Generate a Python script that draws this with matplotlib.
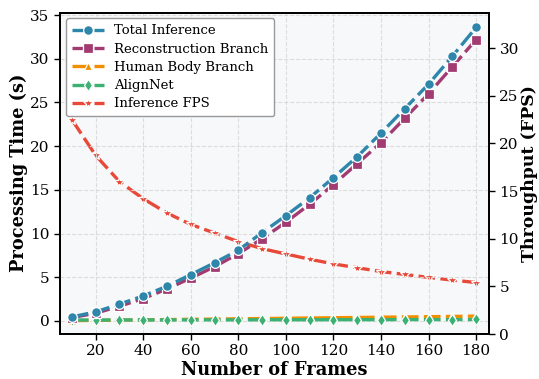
import matplotlib
matplotlib.use("Agg")
import matplotlib.pyplot as plt

frames = [10, 20, 30, 40, 50, 60, 70, 80, 90, 100, 110, 120, 130, 140, 150, 160, 170, 180]
total_inference = [0.46, 1.03, 1.92, 2.86, 3.97, 5.3, 6.65, 8.1, 10.1, 12.05, 14.1, 16.4, 18.8, 21.5, 24.3, 27.1, 30.3, 33.6]
reconstruction = [0.38, 0.88, 1.68, 2.55, 3.66, 4.9, 6.2, 7.7, 9.4, 11.3, 13.35, 15.6, 18.0, 20.4, 23.2, 26.0, 29.1, 32.2]
human_body = [0.03, 0.06, 0.09, 0.12, 0.15, 0.18, 0.21, 0.24, 0.27, 0.30, 0.33, 0.36, 0.39, 0.42, 0.45, 0.48, 0.51, 0.55]
alignnet = [0.10, 0.10, 0.11, 0.11, 0.11, 0.12, 0.12, 0.12, 0.13, 0.13, 0.13, 0.14, 0.14, 0.14, 0.15, 0.15, 0.15, 0.16]
fps = [22.5, 18.75, 16.0, 14.2, 12.7, 11.5, 10.6, 9.7, 8.96, 8.4, 7.85, 7.36, 6.95, 6.56, 6.25, 5.94, 5.66, 5.4]

plt.rcParams['font.family'] = ['DejaVu Serif']

fig = plt.figure(figsize=(5.39, 3.79), dpi=100)
ax = fig.add_axes([60/539, 1-334/379, (489-60)/539, (334-12.5)/379])
ax2 = ax.twinx()

dash = (0, (5, 1.6))
common = dict(linestyle=dash, linewidth=2.4, markeredgecolor='white', markeredgewidth=0.9)

l1, = ax.plot(frames, total_inference, marker='o', markersize=7, color='#2E86AB', label='Total Inference', zorder=5, **common)
l2, = ax.plot(frames, reconstruction, marker='s', markersize=6.5, color='#A23B72', label='Reconstruction Branch', zorder=4, **common)
l3, = ax.plot(frames, human_body, marker='^', markersize=6, color='#F18F01', label='Human Body Branch', zorder=3, **common)
l4, = ax.plot(frames, alignnet, marker='d', markersize=6.5, color='#3BB273', label='AlignNet', zorder=3, **common)
l5, = ax2.plot(frames, fps, marker='*', markersize=7, color='#E84A3A', label='Inference FPS', zorder=3, **common)

ax.set_xlim(5, 185.4)
ax.set_ylim(-1.5, 35.3)
ax2.set_ylim(0, max(fps) * 1.5)
ax.set_xticks(range(20, 181, 20))
ax.set_yticks(range(0, 36, 5))
ax2.set_yticks(range(0, 31, 5))

# ax on top of ax2; ax2 shows background
ax.set_zorder(ax2.get_zorder() + 1)
ax.patch.set_visible(False)
ax2.patch.set_visible(True)
ax2.patch.set_facecolor('#f7f8fa')

ax.grid(True, linestyle='--', color='#d9d9d9', linewidth=0.8, alpha=0.9)
ax.set_axisbelow(True)

for a in (ax, ax2):
    for s in a.spines.values():
        s.set_linewidth(1.3)
        s.set_color('black')
    a.tick_params(labelsize=11, direction='out', length=4, width=1.0)

ax.set_xlabel('Number of Frames', fontsize=12.8, fontweight='bold', labelpad=2)
ax.set_ylabel('Processing Time (s)', fontsize=12.8, fontweight='bold', labelpad=1.5)
ax2.set_ylabel('Throughput (FPS)', fontsize=12.5, fontweight='bold', labelpad=1.5)

leg = ax.legend(handles=[l1, l2, l3, l4, l5], loc='upper left', fontsize=9.5,
                frameon=True, fancybox=True, framealpha=1.0, edgecolor='#999999',
                borderpad=0.45, labelspacing=0.4, handlelength=2.4, borderaxespad=0.45)
leg.get_frame().set_linewidth(1.0)
leg.set_zorder(10)

fig.savefig('out.png', dpi=100)
